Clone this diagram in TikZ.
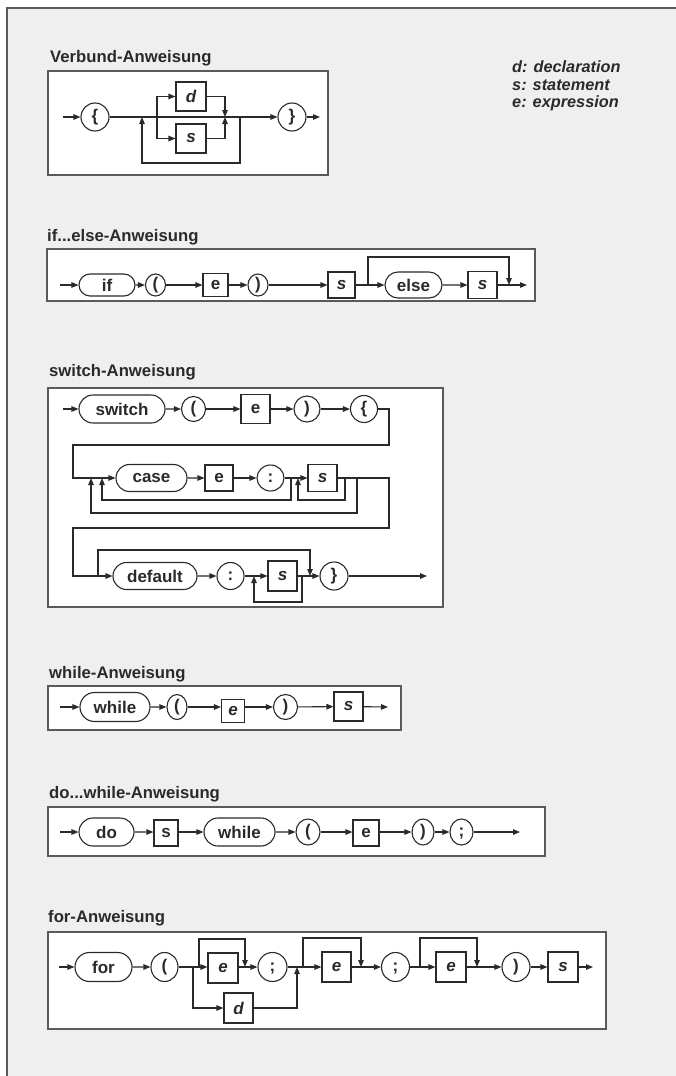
\documentclass[tikz,border=0pt]{standalone}
\usepackage{fontspec}
\setmainfont{Liberation Sans}
\usetikzlibrary{arrows.meta,shapes.misc,shapes.geometric}
\definecolor{pagegray}{HTML}{EFEFEF}
\definecolor{framegray}{HTML}{5A5A5A}
\definecolor{ink}{HTML}{2A2A2A}
\tikzset{
  secbox/.style={draw=framegray,line width=1.4pt,fill=white},
  heading/.style={anchor=west,inner sep=0,text=ink,font=\fontsize{16.7}{19}\selectfont\bfseries},
  legend/.style={anchor=west,inner sep=0,text=ink,font=\fontsize{16.3}{18}\selectfont\bfseries\itshape},
  kw/.style={rounded rectangle,draw=ink,line width=1.1pt,inner sep=0,text=ink,font=\fontsize{17}{19}\selectfont\bfseries},
  sym/.style={ellipse,draw=ink,line width=1.1pt,inner sep=0,text height=11pt,text depth=3pt,text=ink,font=\fontsize{17}{19}\selectfont\bfseries},
  nt/.style={rectangle,draw=ink,line width=1.1pt,inner sep=0,text=ink,font=\fontsize{17}{19}\selectfont\bfseries},
  itl/.style={font=\fontsize{17}{19}\selectfont\bfseries\itshape},
  wire/.style={draw=ink,line width=1.1pt},
  flow/.style={wire,-{Triangle[length=7pt,width=5.5pt]}}
}
\begin{document}
\begin{tikzpicture}[x=1pt,y=-1pt]
\useasboundingbox (0,0) rectangle (676,1076);
\fill[white] (0,0) rectangle (676,1076);
\fill[pagegray] (7,8) rectangle (676,1076);
\draw[framegray,line width=1.2pt] (7,1076) -- (7,8) -- (676,8);

\node[heading] (hVerbund) at (50,58) {Verbund-Anweisung};
\draw[secbox] (48,71) rectangle (328,175);
\node[sym,minimum width=28,minimum height=28] (vOpen) at (95,117) {\{};
\node[nt,itl,minimum width=30,minimum height=29] (vD) at (191,96.5) {d};
\node[nt,itl,minimum width=30,minimum height=29] (vS) at (191,138.5) {s};
\node[sym,minimum width=28,minimum height=28] (vClose) at (292,117) {\}};
\coordinate (vIn) at (63,117);
\coordinate (vSplit) at (157,117);
\coordinate (vJoin) at (225,117);
\coordinate (vBack) at (240,117);
\coordinate (vLoop) at (142,117);
\coordinate (vOut) at (320,117);
\draw[flow] (vIn) -- (vOpen);
\draw[flow] (vOpen) -- (vClose);
\draw[flow] (vClose) -- (vOut);
\draw[flow] (vSplit) |- (vD);
\draw[flow] (vSplit) |- (vS);
\draw[flow] (vD) -| (vJoin);
\draw[flow] (vS) -| (vJoin);
\draw[flow] (vBack) -- ++(0,46) -| (vLoop);

\node[legend] (legD) at (512,67) {d: declaration};
\node[legend] (legS) at (512,85) {s: statement};
\node[legend] (legE) at (512,103) {e: expression};

\node[heading] (hIf) at (47,237) {if...else-Anweisung};
\draw[secbox] (47,249) rectangle (535,301);
\node[kw,minimum width=56,minimum height=22] (ifKw) at (107,285) {if};
\node[sym,minimum width=20,minimum height=22] (ifLp) at (155.5,285) {(};
\node[nt,minimum width=25,minimum height=23] (ifE) at (215.5,285) {e};
\node[sym,minimum width=20,minimum height=22] (ifRp) at (258,285) {)};
\node[nt,itl,minimum width=27,minimum height=26] (ifS) at (341.5,285) {s};
\node[kw,minimum width=57,minimum height=26] (ifElse) at (413.5,285) {else};
\node[nt,itl,minimum width=29,minimum height=27] (ifS2) at (482.5,285) {s};
\coordinate (ifIn) at (60,285);
\coordinate (ifSplit) at (368,285);
\coordinate (ifJoin) at (509,285);
\coordinate (ifOut) at (527,285);
\draw[flow] (ifIn) -- (ifKw);
\draw[flow] (ifKw) -- (ifLp);
\draw[flow] (ifLp) -- (ifE);
\draw[flow] (ifE) -- (ifRp);
\draw[flow] (ifRp) -- (ifS);
\draw[flow] (ifS) -- (ifElse);
\draw[flow] (ifElse) -- (ifS2);
\draw[flow] (ifS2) -- (ifOut);
\draw[flow] (ifSplit) -- ++(0,-28) -| (ifJoin);

\node[heading] (hSwitch) at (49,372) {switch-Anweisung};
\draw[secbox] (48,388) rectangle (443,607);
\node[kw,minimum width=86,minimum height=28] (swKw) at (122,409) {switch};
\node[sym,minimum width=24,minimum height=25] (swLp) at (193.5,409) {(};
\node[nt,minimum width=29,minimum height=29] (swE) at (255.5,409) {e};
\node[sym,minimum width=26,minimum height=26] (swRp) at (307,409) {)};
\node[sym,minimum width=27,minimum height=27] (swLb) at (364,409) {\{};
\node[kw,minimum width=71,minimum height=27] (swCase) at (151.5,478) {case};
\node[nt,minimum width=28,minimum height=26] (swE2) at (219,478) {e};
\node[sym,minimum width=27,minimum height=26] (swCol) at (270.5,478) {:};
\node[nt,itl,minimum width=29,minimum height=27] (swS) at (322.5,478) {s};
\node[kw,minimum width=84,minimum height=27] (swDef) at (155,576) {default};
\node[sym,minimum width=27,minimum height=27] (swCol2) at (230.5,576) {:};
\node[nt,itl,minimum width=29,minimum height=30] (swS2) at (282.5,576) {s};
\node[sym,minimum width=28,minimum height=28] (swRb) at (334,576) {\}};
\coordinate (swIn) at (63,409);
\coordinate (swTurnA) at (389,409);
\coordinate (swTurnB) at (73,445);
\coordinate (swCaseBack) at (102,478);
\coordinate (swOuterBack) at (91,478);
\coordinate (swCaseLoop) at (291,478);
\coordinate (swStmBack) at (298,478);
\coordinate (swStmLoop) at (345,478);
\coordinate (swOuterLoop) at (357,478);
\coordinate (swTurnC) at (389,478);
\coordinate (swTurnD) at (73,528);
\coordinate (swSkip) at (98,576);
\coordinate (swSkipEnd) at (310,576);
\coordinate (swDefBack) at (254,576);
\coordinate (swDefLoop) at (302,576);
\coordinate (swOut) at (427,576);
\draw[flow] (swIn) -- (swKw);
\draw[flow] (swKw) -- (swLp);
\draw[flow] (swLp) -- (swE);
\draw[flow] (swE) -- (swRp);
\draw[flow] (swRp) -- (swLb);
\draw[flow] (swLb) -- (swTurnA) |- (swTurnB) |- (swCase);
\draw[flow] (swCase) -- (swE2);
\draw[flow] (swE2) -- (swCol);
\draw[flow] (swCol) -- (swS);
\draw[flow] (swCaseLoop) -- ++(0,22) -| (swCaseBack);
\draw[flow] (swStmLoop) -- ++(0,22) -| (swStmBack);
\draw[flow] (swOuterLoop) -- ++(0,35) -| (swOuterBack);
\draw[flow] (swS) -- (swTurnC) |- (swTurnD) |- (swDef);
\draw[flow] (swSkip) -- ++(0,-26) -| (swSkipEnd);
\draw[flow] (swDef) -- (swCol2);
\draw[flow] (swCol2) -- (swS2);
\draw[flow] (swS2) -- (swRb);
\draw[flow] (swDefLoop) -- ++(0,26) -| (swDefBack);
\draw[flow] (swRb) -- (swOut);

\node[heading] (hWhile) at (49,674) {while-Anweisung};
\draw[secbox] (48,686) rectangle (401,730);
\node[kw,minimum width=70,minimum height=29] (wKw) at (115,707) {while};
\node[sym,minimum width=20,minimum height=25] (wLp) at (177,707) {(};
\node[nt,itl,minimum width=23,minimum height=23] (wE) at (233,711) {e};
\node[sym,minimum width=24,minimum height=25] (wRp) at (285.5,707) {)};
\node[nt,itl,minimum width=29,minimum height=29] (wS) at (348.5,706.5) {s};
\coordinate (wIn) at (60,707);
\coordinate (wOut) at (388,707);
\draw[flow] (wIn) -- (wKw);
\draw[flow] (wKw) -- (wLp);
\draw[flow] (wLp) -- (wLp -| wE.west);
\draw[flow] (wE.east |- wRp) -- (wRp);
\draw[flow] (wRp) -- (wS);
\draw[flow] (wS) -- (wOut);

\node[heading] (hDo) at (49,794) {do...while-Anweisung};
\draw[secbox] (48,807) rectangle (545,856);
\node[kw,minimum width=55,minimum height=28] (dKw) at (106.5,832) {do};
\node[nt,minimum width=24,minimum height=26] (dS) at (166,833) {s};
\node[kw,minimum width=71,minimum height=28] (dWhile) at (239.5,832) {while};
\node[sym,minimum width=24,minimum height=26] (dLp) at (308,832) {(};
\node[nt,minimum width=26,minimum height=26] (dE) at (366,833) {e};
\node[sym,minimum width=22,minimum height=26] (dRp) at (423,832) {)};
\node[sym,minimum width=23,minimum height=26] (dSem) at (461.5,832) {;};
\coordinate (dIn) at (60,832);
\coordinate (dOut) at (520,832);
\draw[flow] (dIn) -- (dKw);
\draw[flow] (dKw) -- (dKw -| dS.west);
\draw[flow] (dS.east |- dWhile) -- (dWhile);
\draw[flow] (dWhile) -- (dLp);
\draw[flow] (dLp) -- (dLp -| dE.west);
\draw[flow] (dE.east |- dRp) -- (dRp);
\draw[flow] (dRp) -- (dSem);
\draw[flow] (dSem) -- (dOut);

\node[heading] (hFor) at (48,918) {for-Anweisung};
\draw[secbox] (48,932) rectangle (606,1029);
\node[kw,minimum width=57,minimum height=29] (fKw) at (103.5,967) {for};
\node[sym,minimum width=27,minimum height=29] (fLp) at (164.5,967) {(};
\node[nt,itl,minimum width=30,minimum height=30] (fE1) at (223,968) {e};
\node[nt,itl,minimum width=29,minimum height=30] (fD) at (238.5,1008) {d};
\node[sym,minimum width=29,minimum height=29] (fSem1) at (272.5,967) {;};
\node[nt,itl,minimum width=29,minimum height=30] (fE2) at (336.5,967) {e};
\node[sym,minimum width=28,minimum height=29] (fSem2) at (395.5,967) {;};
\node[nt,itl,minimum width=30,minimum height=30] (fE3) at (451,967) {e};
\node[sym,minimum width=28,minimum height=29] (fRp) at (516,967) {)};
\node[nt,itl,minimum width=30,minimum height=30] (fS) at (563,967) {s};
\coordinate (fIn) at (59,967);
\coordinate (fSplit) at (193,967);
\coordinate (fMerge) at (297,967);
\coordinate (fB1) at (199,967);
\coordinate (fJ1) at (245,967);
\coordinate (fB2) at (303,967);
\coordinate (fJ2) at (361,967);
\coordinate (fB3) at (420,967);
\coordinate (fJ3) at (477,967);
\coordinate (fOut) at (593,967);
\draw[flow] (fIn) -- (fKw);
\draw[flow] (fKw) -- (fLp);
\draw[flow] (fLp) -- (fLp -| fE1.west);
\draw[flow] (fE1.east |- fSem1) -- (fSem1);
\draw[flow] (fSem1) -- (fE2);
\draw[flow] (fE2) -- (fSem2);
\draw[flow] (fSem2) -- (fE3);
\draw[flow] (fE3) -- (fRp);
\draw[flow] (fRp) -- (fS);
\draw[flow] (fS) -- (fOut);
\draw[flow] (fSplit) |- (fD);
\draw[flow] (fD) -| (fMerge);
\draw[flow] (fB1) -- ++(0,-28) -| (fJ1);
\draw[flow] (fB2) -- ++(0,-29) -| (fJ2);
\draw[flow] (fB3) -- ++(0,-29) -| (fJ3);
\end{tikzpicture}
\end{document}
